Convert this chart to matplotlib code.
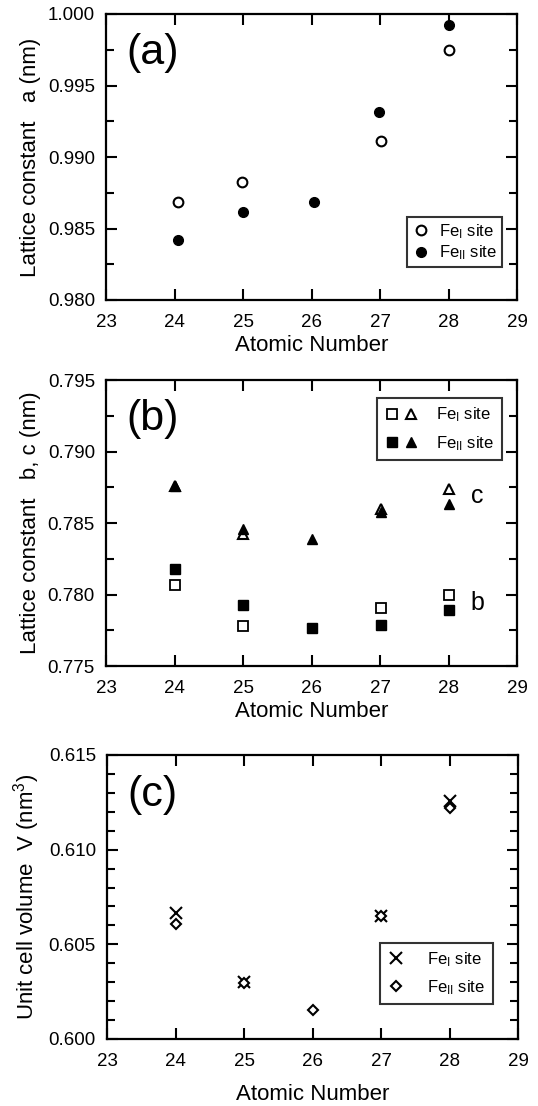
import matplotlib
matplotlib.use("Agg")
import matplotlib.pyplot as plt
from matplotlib.ticker import MultipleLocator, FormatStrFormatter
from matplotlib.legend_handler import HandlerTuple

plt.rcParams['font.family'] = ['Liberation Sans', 'DejaVu Sans']
plt.rcParams['mathtext.fontset'] = 'custom'
plt.rcParams['mathtext.rm'] = 'Liberation Sans'
plt.rcParams['mathtext.it'] = 'Liberation Sans:italic'

# ---- data ----
# (a) lattice constant a
a_x_I = [24.05, 24.98, 27.01, 28.0]
a_I = [0.98685, 0.98828, 0.99112, 0.99745]
a_x_II = [24.05, 25.0, 26.03, 26.99, 28.0]
a_II = [0.98418, 0.98618, 0.98685, 0.99318, 0.99925]

# (b) lattice constants b, c
b_x = [24.0, 25.0, 26.0, 27.01, 28.0]
b_x_I = [24.0, 25.0, 27.01, 28.0]
b_I = [0.78065, 0.77780, 0.77905, 0.78000]
b_II = [0.78180, 0.77925, 0.77765, 0.77785, 0.77890]
c_x_I = [24.0, 25.0, 27.01, 28.0]
c_I = [0.78760, 0.78425, 0.78595, 0.78735]
c_II = [0.78760, 0.78460, 0.78390, 0.78575, 0.78635]

# (c) unit cell volume
v_x_I = [24.0, 25.0, 27.0, 28.0]
v_I = [0.60668, 0.60300, 0.60650, 0.61255]
v_x_II = [24.0, 25.0, 26.0, 27.0, 28.0]
v_II = [0.60605, 0.60295, 0.60153, 0.60650, 0.61220]

xticks = [23, 24, 25, 26, 27, 28, 29]

W, H = 538, 1106
fig = plt.figure(figsize=(W / 100, H / 100), dpi=100)


def make_ax(top, bottom, left=106, right=517):
    return fig.add_axes([left / W, (H - bottom) / H, (right - left) / W, (bottom - top) / H])


def style(ax, ylo, yhi, major, minor, ylabel, xlabelpad=3):
    ax.set_xlim(23, 29)
    ax.set_ylim(ylo, yhi)
    ax.set_xticks(xticks)
    ax.yaxis.set_major_locator(MultipleLocator(major))
    ax.yaxis.set_minor_locator(MultipleLocator(minor))
    ax.yaxis.set_major_formatter(FormatStrFormatter('%.3f'))
    ax.tick_params(which='both', direction='in', top=True, right=True, width=1.5,
                   labelsize=13.5)
    ax.tick_params(axis='x', which='major', pad=10)
    ax.tick_params(axis='y', which='major', pad=8)
    ax.tick_params(which='major', length=8)
    ax.tick_params(which='minor', length=6)
    for sp in ax.spines.values():
        sp.set_linewidth(1.6)
    ax.set_xlabel('Atomic Number', fontsize=16, labelpad=xlabelpad)
    ax.set_ylabel(ylabel, fontsize=16, labelpad=5)


ms = 7
legkw = dict(fontsize=12, frameon=True, fancybox=False, edgecolor='black', borderaxespad=0)

# ---- (a) ----
ax1 = make_ax(14, 300)
ax1.plot(a_x_I, a_I, 'o', mfc='white', mec='black', mew=1.5, ms=ms, linestyle='none',
         label='Fe$_\\mathrm{I}$ site')
ax1.plot(a_x_II, a_II, 'o', mfc='black', mec='black', ms=ms, linestyle='none',
         label='Fe$_\\mathrm{II}$ site')
style(ax1, 0.980, 1.000, 0.005, 0.0025, 'Lattice constant   a (nm)')
ax1.text(0.05, 0.935, '(a)', transform=ax1.transAxes, fontsize=31, va='top', ha='left')
leg1 = ax1.legend(loc='lower right', bbox_to_anchor=(0.9635, 0.115), handlelength=1.0,
                  handletextpad=0.6, borderpad=0.3, labelspacing=0.15, **legkw)
leg1.get_frame().set_linewidth(1.5)

# ---- (b) ----
ax2 = make_ax(380, 666)
sq_I, = ax2.plot(b_x_I, b_I, 's', mfc='white', mec='black', mew=1.3, ms=ms, linestyle='none')
sq_II, = ax2.plot(b_x, b_II, 's', mfc='black', mec='black', ms=ms, linestyle='none')
tr_I, = ax2.plot(c_x_I, c_I, '^', mfc='white', mec='black', mew=1.5, ms=ms, linestyle='none')
tr_II, = ax2.plot(b_x, c_II, '^', mfc='black', mec='black', ms=ms, linestyle='none')
style(ax2, 0.775, 0.795, 0.005, 0.0025, 'Lattice constant   b, c (nm)')
ax2.text(0.05, 0.935, '(b)', transform=ax2.transAxes, fontsize=31, va='top', ha='left')
ax2.text(28.42, 0.7869, 'c', fontsize=18, va='center', ha='center')
ax2.text(28.42, 0.7794, 'b', fontsize=18, va='center', ha='center')
leg2 = ax2.legend([(sq_I, tr_I), (sq_II, tr_II)],
                  ['Fe$_\\mathrm{I}$ site', 'Fe$_\\mathrm{II}$ site'],
                  handler_map={tuple: HandlerTuple(ndivide=None, pad=0.3)},
                  loc='upper right', bbox_to_anchor=(0.9635, 0.937), handlelength=2.0,
                  handletextpad=1.1, borderpad=0.45, labelspacing=0.6, **legkw)
leg2.get_frame().set_linewidth(1.5)

# ---- (c) ----
ax3 = make_ax(755, 1039, left=107, right=518)
ax3.plot(v_x_I, v_I, 'x', color='black', mew=1.5, ms=8, linestyle='none',
         label='Fe$_\\mathrm{I}$ site')
ax3.plot(v_x_II, v_II, 'D', mfc='white', mec='black', mew=1.5, ms=5.5, linestyle='none',
         label='Fe$_\\mathrm{II}$ site')
style(ax3, 0.600, 0.615, 0.005, 0.001, 'Unit cell volume  V (nm$^3$)', xlabelpad=10)
ax3.text(0.05, 0.93, '(c)', transform=ax3.transAxes, fontsize=31, va='top', ha='left')
leg3 = ax3.legend(loc='lower right', bbox_to_anchor=(0.939, 0.123), handlelength=1.0,
                  handletextpad=1.4, borderpad=0.45, labelspacing=0.55, **legkw)
leg3.get_frame().set_linewidth(1.5)

fig.savefig('out.png', dpi=100)
